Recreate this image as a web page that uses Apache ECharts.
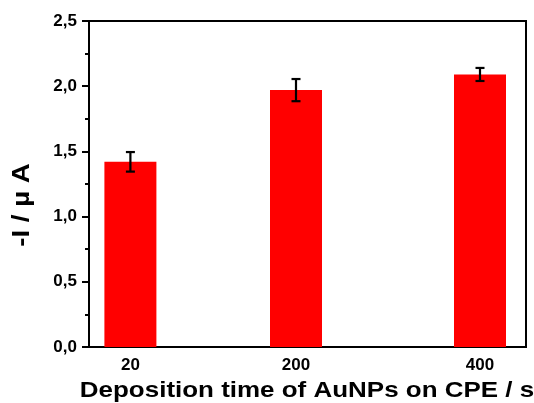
<!DOCTYPE html>
<html>
<head>
<meta charset="utf-8">
<script src="https://cdn.jsdelivr.net/npm/echarts@6/dist/echarts.min.js"></script>
<style>html,body{margin:0;padding:0;background:#fff;}#c{width:534px;height:403px;}</style>
</head>
<body>
<div id="c"></div>
<script>
const categories = [20, 200, 400];
const currents = [1.42, 1.97, 2.09];
const errors = [0.075, 0.085, 0.05];
const yTicks = [0, 0.5, 1.0, 1.5, 2.0, 2.5];
const xTitle = 'Deposition time of AuNPs on CPE / s';
const yTitle = '-I / µ A';

const chart = echarts.init(document.getElementById('c'), null, {renderer: 'canvas'});
const font = '"Liberation Sans", Arial, sans-serif';
const barData = categories.map((c, i) => [c, currents[i]]);
const errData = categories.map((c, i) => [c, currents[i] - errors[i], currents[i] + errors[i]]);

chart.setOption({
  animation: false,
  grid: {left: 89, top: 21, right: 8, bottom: 56, show: true, borderColor: '#000', borderWidth: 2, backgroundColor: 'transparent'},
  xAxis: {
    type: 'value', min: -25, max: 450,
    axisLine: {show: true, onZero: false, lineStyle: {color: '#000', width: 2}},
    axisTick: {show: false},
    splitLine: {show: false},
    axisLabel: {customValues: categories, margin: 10, fontFamily: font, fontWeight: 'bold', fontSize: 17, color: '#000'}
  },
  yAxis: {
    type: 'value', min: yTicks[0], max: yTicks[yTicks.length - 1], interval: 0.5,
    axisLine: {show: true, onZero: false, lineStyle: {color: '#000', width: 2}},
    axisTick: {show: true, inside: false, length: 7, lineStyle: {color: '#000', width: 2}},
    minorTick: {show: true, splitNumber: 2, length: 4, lineStyle: {color: '#000', width: 2}},
    splitLine: {show: false},
    axisLabel: {margin: 12, fontFamily: font, fontWeight: 'bold', fontSize: 17, color: '#000',
      formatter: v => v.toFixed(1).replace('.', ',')}
  },
  graphic: [{
    type: 'text', x: 22.5, y: 205, rotation: Math.PI / 2, scaleX: 1.2,
    style: {text: yTitle, font: 'bold 23px ' + font, fill: '#000', align: 'center', verticalAlign: 'middle'}
  }, {
    type: 'text', x: 307, y: 391, scaleX: 1.18,
    style: {text: xTitle, font: 'bold 22px ' + font, fill: '#000', align: 'center', verticalAlign: 'middle'}
  }],
  series: [{
    type: 'bar', data: barData, barWidth: 52,
    itemStyle: {color: '#ff0000'}
  }, {
    type: 'custom', data: errData, z: 10,
    renderItem: function (params, api) {
      const x = api.value(0);
      const lo = api.coord([x, api.value(1)]);
      const hi = api.coord([x, api.value(2)]);
      const hw = 4.5;
      const st = {stroke: '#000', lineWidth: 2.2};
      return {type: 'group', children: [
        {type: 'line', shape: {x1: lo[0], y1: lo[1], x2: hi[0], y2: hi[1]}, style: st},
        {type: 'line', shape: {x1: lo[0] - hw, y1: lo[1], x2: lo[0] + hw, y2: lo[1]}, style: st},
        {type: 'line', shape: {x1: hi[0] - hw, y1: hi[1], x2: hi[0] + hw, y2: hi[1]}, style: st}
      ]};
    }
  }]
});
</script>
</body>
</html>
